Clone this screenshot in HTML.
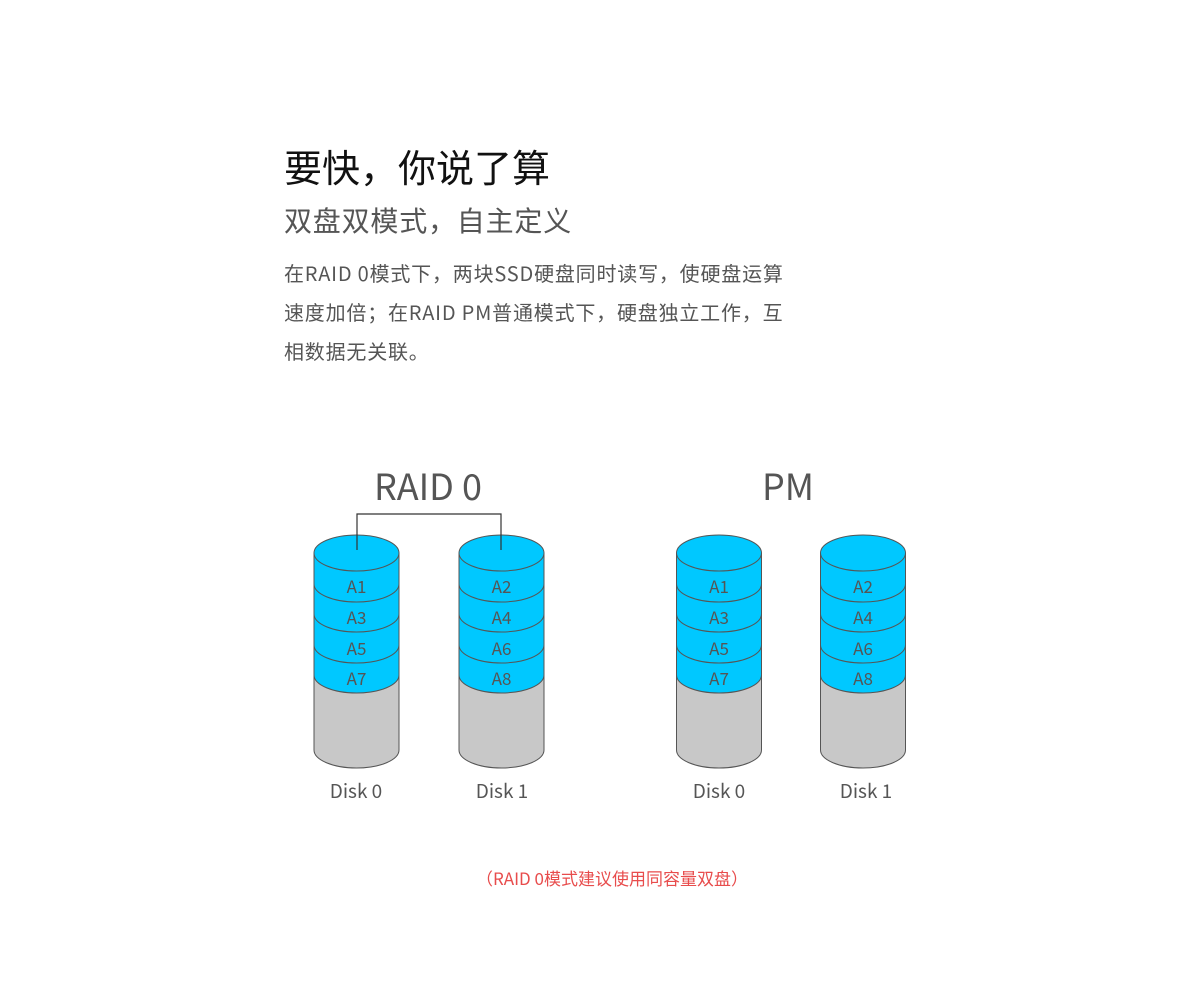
<!DOCTYPE html>
<html><head><meta charset="utf-8"><style>
html,body{margin:0;padding:0;background:#fff;}
body{width:1200px;height:1000px;position:relative;overflow:hidden;font-family:"Noto Sans CJK SC","Liberation Sans",sans-serif;}
.t{position:absolute;white-space:nowrap;}
</style></head><body>
<div class="t" style="left:284px;top:138px;font-size:38px;color:#111;line-height:56px;">要快，你说了算</div>
<div class="t" style="left:284px;top:200px;font-size:28px;color:#555;line-height:40px;letter-spacing:0.8px;">双盘双模式，自主定义</div>
<div class="t" style="left:284px;top:253px;font-size:20px;color:#555;line-height:39px;letter-spacing:0.8px;">在RAID 0模式下，两块SSD硬盘同时读写，使硬盘运算<br>速度加倍；在RAID PM普通模式下，硬盘独立工作，互<br>相数据无关联。</div>
<svg width="1200" height="1000" style="position:absolute;left:0;top:0" xmlns="http://www.w3.org/2000/svg">
<g font-family="Noto Sans CJK SC, Liberation Sans, sans-serif" fill="#555" text-anchor="middle">
<text x="428" y="500" font-size="36">RAID 0</text>
<text x="788" y="500" font-size="36">PM</text>
</g>
<defs>
<g id="cyl">
<path d="M-42.5,553 V750 A42.5,18 0 0 0 42.5,750 V553 Z" fill="#c8c8c8" stroke="#555" stroke-width="1"/>
<path d="M-42.5,553 V675 A42.5,18 0 0 0 42.5,675 V553 Z" fill="#00c8ff" stroke="#555" stroke-width="1"/>
<path d="M-42.5,584 A42.5,18 0 0 0 42.5,584" fill="none" stroke="#555"/>
<path d="M-42.5,614 A42.5,18 0 0 0 42.5,614" fill="none" stroke="#555"/>
<path d="M-42.5,645 A42.5,18 0 0 0 42.5,645" fill="none" stroke="#555"/>
<ellipse cx="0" cy="553" rx="42.5" ry="18" fill="#00c8ff" stroke="#555"/>
</g>
</defs>
<use href="#cyl" x="356.5"/>
<use href="#cyl" x="501.5"/>
<use href="#cyl" x="719"/>
<use href="#cyl" x="863"/>
<polyline points="357,550 357,514 501,514 501,550" fill="none" stroke="#333" stroke-width="1.2"/>
<g font-family="Noto Sans CJK SC, Liberation Sans, sans-serif" fill="#555" text-anchor="middle" font-size="17">
<text x="356.5" y="593">A1</text><text x="356.5" y="624">A3</text><text x="356.5" y="655">A5</text><text x="356.5" y="685">A7</text>
<text x="501.5" y="593">A2</text><text x="501.5" y="624">A4</text><text x="501.5" y="655">A6</text><text x="501.5" y="685">A8</text>
<text x="719" y="593">A1</text><text x="719" y="624">A3</text><text x="719" y="655">A5</text><text x="719" y="685">A7</text>
<text x="863" y="593">A2</text><text x="863" y="624">A4</text><text x="863" y="655">A6</text><text x="863" y="685">A8</text>
</g>
<g font-family="Noto Sans CJK SC, Liberation Sans, sans-serif" fill="#555" text-anchor="middle" font-size="19">
<text x="356" y="798">Disk 0</text><text x="502" y="798">Disk 1</text>
<text x="719" y="798">Disk 0</text><text x="866" y="798">Disk 1</text>
</g>
<text x="612" y="885" text-anchor="middle" font-size="17" fill="#e84c4c" font-family="Noto Sans CJK SC, Liberation Sans, sans-serif">（RAID 0模式建议使用同容量双盘）</text>
</svg>
</body></html>
